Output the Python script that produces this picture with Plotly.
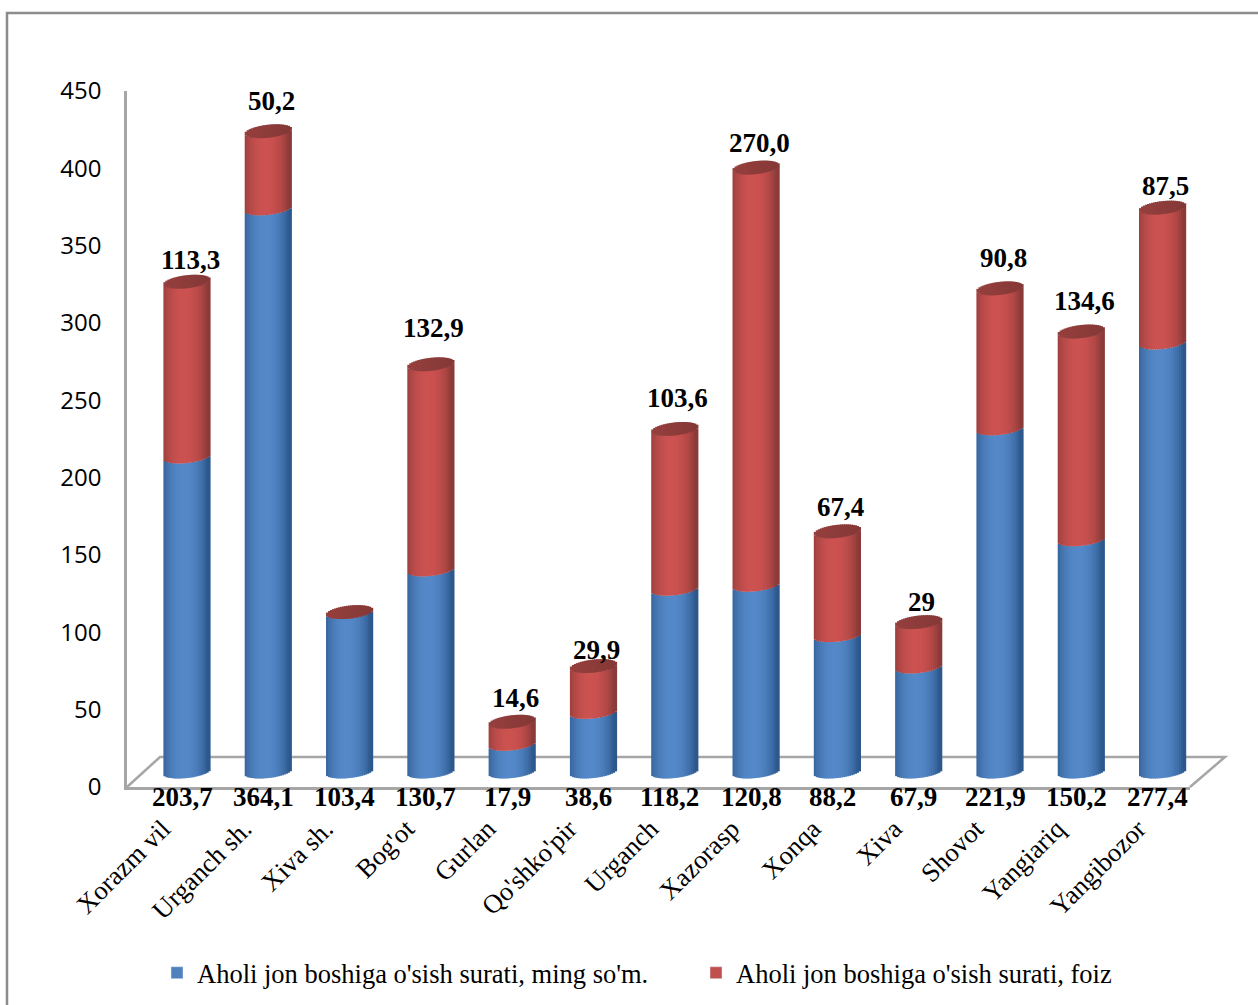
import math
import plotly.graph_objects as go

categories = ["Xorazm vil", "Urganch sh.", "Xiva sh.", "Bog'ot", "Gurlan", "Qo'shko'pir", "Urganch",
              "Xazorasp", "Xonqa", "Xiva", "Shovot", "Yangiariq", "Yangibozor"]
blue_values = [203.7, 364.1, 103.4, 130.7, 17.9, 38.6, 118.2, 120.8, 88.2, 67.9, 221.9, 150.2, 277.4]
red_values = [113.3, 50.2, 0, 132.9, 14.6, 29.9, 103.6, 270.0, 67.4, 29, 90.8, 134.6, 87.5]
blue_labels = ["203,7", "364,1", "103,4", "130,7", "17,9", "38,6", "118,2", "120,8", "88,2", "67,9", "221,9", "150,2", "277,4"]
red_labels = ["113,3", "50,2", "", "132,9", "14,6", "29,9", "103,6", "270,0", "67,4", "29", "90,8", "134,6", "87,5"]
series_names = ["Aholi jon boshiga o'sish surati, ming so'm.", "Aholi jon boshiga o'sish surati, foiz"]
y_ticks = [0, 50, 100, 150, 200, 250, 300, 350, 400, 450]

W, H = 1258, 1005
X0, X1 = 127, 1190
Y_TOP, Y_BOT = 91, 787
STEP = 81.3
FIRST = 187
PX_PER_UNIT = (Y_BOT - Y_TOP) / 450
LIFT = 15 / PX_PER_UNIT
BAR_W = 46
N_STRIPS = 23
CURVE = 6 / PX_PER_UNIT
CAP = 6.5 / PX_PER_UNIT
TILT = 2.5 / PX_PER_UNIT
SERIF = "Liberation Serif"
GRAY = "#a6a6a6"
# per-label vertical nudges (px), as the labels in the picture are hand-placed
label_nudges = [-5, 3, 0, 9, -3, -11, 4, -2, -3, -7, 3, 4, -5]


def fx(px):
    return px / W


def fy(px):
    return 1 - px / H


def mix(a, b, f):
    return "rgb(%d,%d,%d)" % tuple(round(a[i] + (b[i] - a[i]) * f) for i in range(3))


def shade(dark, light, t):
    f = max(0.0, 1 - ((t + 0.1) / 1.0) ** 2)
    return mix(dark, light, f ** 0.8)


idx = list(range(len(categories)))
totals = [b + r for b, r in zip(blue_values, red_values)]
strip_draw = 3.2
strip_w = strip_draw / STEP

legend_traces = [
    go.Bar(x=idx, y=[None] * len(idx), name=series_names[0], marker_color="#4f81bd", legend="legend", yaxis="y", hoverinfo="skip"),
    go.Bar(x=idx, y=[None] * len(idx), name=series_names[1], marker_color="#c0504d", legend="legend2", yaxis="y", hoverinfo="skip"),
]
blue_strips, red_strips, cap_strips = [], [], []

for s in range(N_STRIPS):
    t = (s + 0.5) / N_STRIPS * 2 - 1
    off = (t * BAR_W / 2 - strip_draw / 2) / STEP
    circ = math.sqrt(1 - t * t)
    low = -CURVE * circ + TILT * t
    common = dict(x=idx, width=strip_w, offset=off, yaxis="y2", showlegend=False, hoverinfo="skip",
                  marker_line_width=0)
    blue_strips.append(go.Bar(y=blue_values, base=[low] * len(idx),
                              marker_color=shade((44, 88, 140), (84, 136, 200), t), **common))
    red_strips.append(go.Bar(y=red_values, base=[b + low for b in blue_values],
                             marker_color=shade((138, 58, 56), (204, 82, 80), t), **common))
    cap_strips.append(go.Bar(y=[2 * CAP * circ] * len(idx), base=[v - CAP * circ + TILT * t for v in totals],
                             marker_color=mix((150, 64, 62), (132, 56, 54), (t + 1) / 2), **common))

fig = go.Figure(legend_traces + blue_strips + red_strips + cap_strips)

BOLD = dict(family=SERIF, size=27, color="black", weight="bold")
annotations = []
for i in idx:
    annotations.append(dict(x=i, y=0, xref="x", yref="y2", yshift=-25, xshift=-5, text=blue_labels[i], showarrow=False,
                            yanchor="middle", font=BOLD))
    if red_labels[i]:
        annotations.append(dict(x=i, y=totals[i], xref="x", yref="y2", yshift=27 + label_nudges[i], xshift=3,
                                text=red_labels[i], showarrow=False, yanchor="middle", font=BOLD))

floor = "M %f %f L %f %f L %f %f L %f %f" % (fx(X0), fy(Y_BOT), fx(160), fy(757), fx(1225), fy(757), fx(X1), fy(Y_BOT))
frame = "M %f %f L %f %f L %f %f" % (fx(7), fy(H), fx(7), fy(13), fx(W), fy(13))
shapes = [
    dict(type="path", path=floor, xref="paper", yref="paper", line=dict(color=GRAY, width=2.5), layer="below"),
    dict(type="path", path=frame, xref="paper", yref="paper", line=dict(color="#8c8c8c", width=2.5), layer="below"),
]

fig.update_layout(
    width=W, height=H, margin=dict(l=0, r=0, t=0, b=0, autoexpand=False), autosize=False,
    paper_bgcolor="white", plot_bgcolor="rgba(0,0,0,0)", barmode="overlay",
    xaxis=dict(domain=[fx(X0), fx(X1)], range=[(X0 - FIRST) / STEP, (X1 - FIRST) / STEP],
               tickvals=[i - 0.30 for i in idx], ticktext=categories, tickangle=-45, ticklen=0,
               ticklabelstandoff=13, showgrid=False, zeroline=False, showline=True, linecolor=GRAY, linewidth=2.5,
               tickfont=dict(family=SERIF, size=26.5, color="black")),
    yaxis=dict(domain=[fy(Y_BOT), fy(Y_TOP)], range=[0, 450], tickvals=y_ticks, ticklen=0, ticklabelstandoff=18,
               showgrid=False, zeroline=False, showline=True, linecolor=GRAY, linewidth=2.5,
               tickfont=dict(family="Open Sans", size=24, color="black")),
    yaxis2=dict(overlaying="y", range=[-LIFT, 450 - LIFT], visible=False),
    legend=dict(x=fx(157), y=fy(973), xanchor="left", yanchor="middle", bgcolor="rgba(0,0,0,0)", borderwidth=0,
                font=dict(family=SERIF, size=26.5, color="black")),
    legend2=dict(x=fx(696), y=fy(973), xanchor="left", yanchor="middle", bgcolor="rgba(0,0,0,0)", borderwidth=0,
                 font=dict(family=SERIF, size=26.5, color="black")),
    annotations=annotations, shapes=shapes,
)
fig.write_html("out.html", post_script="document.body.style.margin='0';", config={"displayModeBar": False})
